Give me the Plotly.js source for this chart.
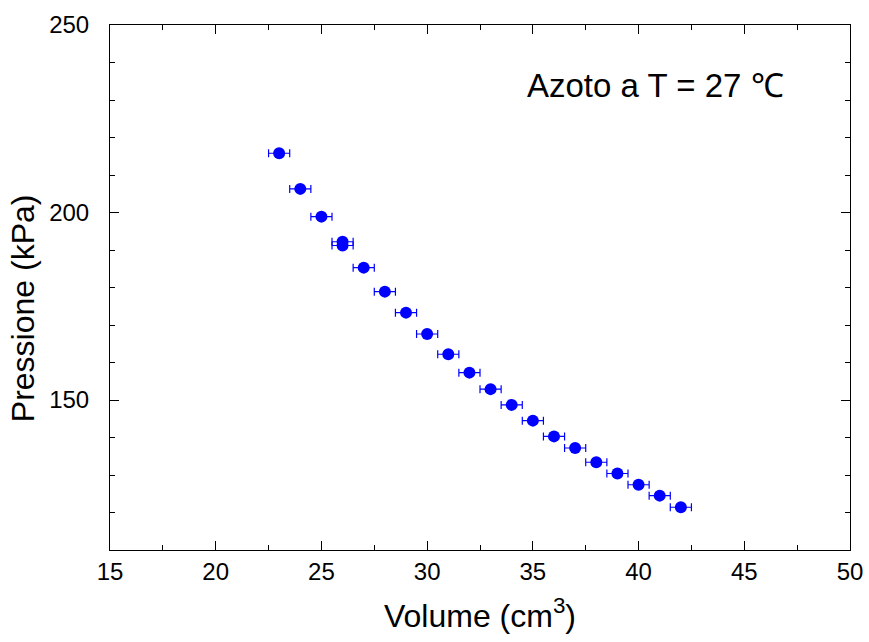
<!DOCTYPE html>
<html>
<head>
<meta charset="utf-8">
<script src="https://cdn.plot.ly/plotly-3.0.1.min.js"></script>
<style>html,body{margin:0;padding:0;background:#fff;}#chart{width:869px;height:642px;}</style>
</head>
<body>
<div id="chart"></div>
<script>
// Data
const volume = [23, 24, 25, 26, 26, 27, 28, 29, 30, 31, 32, 33, 34, 35, 36, 37, 38, 39, 40, 41, 42];
const pressure = [215.8, 206.3, 198.9, 192.2, 191.2, 185.3, 178.9, 173.3, 167.6, 162.2, 157.3, 152.9, 148.7, 144.5, 140.3, 137.2, 133.4, 130.4, 127.4, 124.5, 121.4];
const volumeError = [0.5, 0.5, 0.5, 0.5, 0.5, 0.5, 0.5, 0.5, 0.5, 0.5, 0.5, 0.5, 0.5, 0.5, 0.5, 0.5, 0.5, 0.5, 0.5, 0.5, 0.5];
const xTickValues = [15, 20, 25, 30, 35, 40, 45, 50];
const yTickValues = [150, 200, 250];
const annotationText = "Azoto a T = 27 \u2103";
const xTitle = "Volume (cm<sup>3</sup>)";
const yTitle = "Pressione (kPa)";

const font = "Liberation Sans, Arial, Helvetica, sans-serif";
const narrowFont = "Liberation Sans Narrow, Arial Narrow, Liberation Sans, sans-serif";

const trace = {
  x: volume,
  y: pressure,
  mode: "markers",
  type: "scatter",
  marker: {color: "#0000ff", size: 12},
  error_x: {type: "data", array: volumeError, visible: true, color: "#0000ff", thickness: 1.2, width: 4},
  showlegend: false
};

const axisCommon = {
  showline: true, mirror: "ticks", linecolor: "#000", linewidth: 1,
  ticks: "inside", ticklen: 9, tickwidth: 1, tickcolor: "#000",
  showgrid: false, zeroline: false
};

const layout = {
  width: 869, height: 642,
  margin: {l: 110, r: 19, t: 25, b: 92},
  paper_bgcolor: "#fff", plot_bgcolor: "#fff",
  xaxis: Object.assign({}, axisCommon, {
    range: [15, 50], tickmode: "array", tickvals: xTickValues,
    tickfont: {family: font, size: 24, color: "#000"},
    minor: {dtick: 2.5, ticks: "inside", ticklen: 5, tickcolor: "#000", showgrid: false},
    ticklabelstandoff: 0,
    title: {text: xTitle, font: {family: font, size: 32, color: "#000"}, standoff: 20}
  }),
  yaxis: Object.assign({}, axisCommon, {
    range: [110, 250], tickmode: "array", tickvals: yTickValues,
    tickfont: {family: narrowFont, size: 24, color: "#000"},
    minor: {dtick: 10, ticks: "inside", ticklen: 5, tickcolor: "#000", showgrid: false},
    ticklabelstandoff: 15
  }),
  annotations: [
    {
      x: 40.8, y: 233.8, xref: "x", yref: "y", text: annotationText, showarrow: false,
      font: {family: font, size: 33, color: "#000"}
    },
    {
      x: -0.118, y: 0.46, xref: "paper", yref: "paper", text: yTitle, showarrow: false,
      textangle: -90, xanchor: "center", yanchor: "middle",
      font: {family: font, size: 32, color: "#000"}
    }
  ]
};

Plotly.newPlot("chart", [trace], layout, {displayModeBar: false, staticPlot: true});
</script>
</body>
</html>
